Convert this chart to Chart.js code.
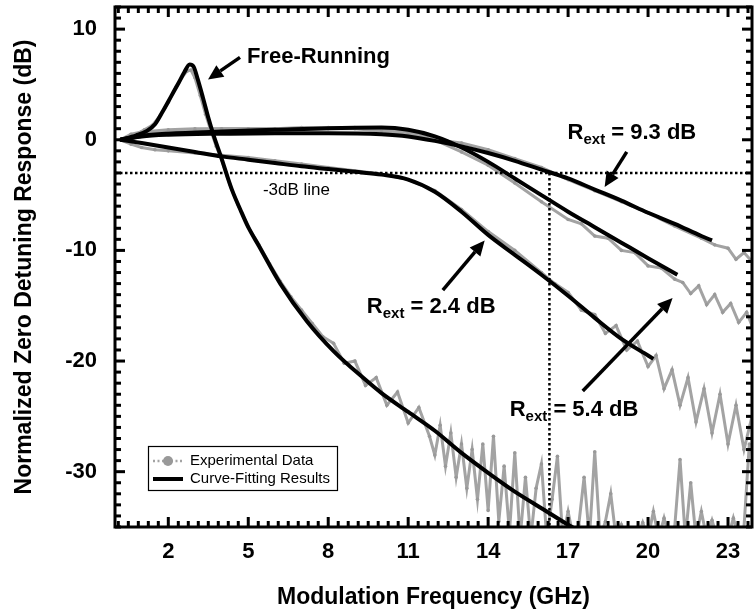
<!DOCTYPE html>
<html><head><meta charset="utf-8">
<script src="https://cdn.jsdelivr.net/npm/chart.js@4/dist/chart.umd.min.js"></script>
<style>html,body{margin:0;padding:0;background:#fff}</style>
</head><body>
<canvas id="c" width="756" height="612"></canvas>
<script>
// ---------- data ----------
const xTicks = [2, 5, 8, 11, 14, 17, 20, 23];
const yTicks = [-30, -20, -10, 0, 10];

// Curve-fitting results
const frFitX = [0.2,0.8,1.2,1.5,1.8,2.1,2.4,2.6,2.8,2.95,3.1,3.3,3.5,3.7,4.0,4.2,4.4,4.7,5.0,5.4,6.2,7.2,8.2,9.4,10,11,12,13,14,15,16,17,17.6];
const frFitY = [0,0.4,0.8,1.4,2.6,3.9,5.2,6.1,6.8,6.6,5.5,3.8,2.0,0.4,-1.7,-3.2,-4.6,-6.3,-7.9,-9.6,-13.0,-16.4,-19.1,-21.7,-22.9,-24.6,-26.3,-28.3,-30.1,-31.8,-33.3,-34.8,-35.6];
const r24FitX = [0.2,1,2,3,4,5,6,7,8,9,10,11,12,13,14,15,16,17,18,19,20,20.2];
const r24FitY = [0,-0.3,-0.7,-1.1,-1.5,-1.8,-2.1,-2.4,-2.65,-2.9,-3.15,-3.6,-4.7,-6.5,-8.6,-10.4,-12.2,-14.1,-16.1,-18.0,-19.5,-19.8];
const r54FitX = [0.2,1,2,4,6,8,10,11,12,13,14,15,16,17,18,19,20,21.1];
const r54FitY = [0,0.35,0.55,0.75,0.9,1.05,1.1,0.9,0.3,-0.7,-2.0,-3.5,-5.0,-6.5,-7.9,-9.3,-10.7,-12.2];
const r93FitX = [0.2,1,2,4,6,8,10,11,12,13,14,15,16,17,18,19,20,21,22,22.4];
const r93FitY = [0,0.3,0.45,0.55,0.6,0.6,0.5,0.3,-0.1,-0.6,-1.2,-1.9,-2.7,-3.5,-4.5,-5.5,-6.6,-7.6,-8.7,-9.1];

// Experimental data
const frExpX = [0.2,0.5,0.8,1.1,1.4,1.7,2.0,2.3,2.5,2.7,2.85,3.0,3.2,3.4,3.6,3.8,4.0,4.3,4.6,5.0,5.4,5.8,6.2,6.6,7.0,7.4,7.8,8.2,8.6,9.0,9.4,9.8,10.2,10.6,11.0,11.4,11.8,
  12.0,12.2,12.4,12.6,12.8,13.0,13.2,13.4,13.6,13.8,14.0,14.2,14.4,14.6,14.8,15.0,15.2,15.4,15.6,15.8,
  16.0,16.2,16.4,16.6,16.8,17.0,17.2,17.4,17.6,17.8,18.0,18.2,18.4,18.6,18.8,19.0,19.2,19.4,19.6,19.8,
  20.0,20.2,20.4,20.6,20.8,21.0,21.2,21.4,21.6,21.8,22.0,22.2,22.4,22.6,22.8,23.0,23.2,23.4,23.6,23.8];
const frExpY = [0,0.2,0.5,0.9,1.3,2.2,3.4,4.8,5.6,6.2,6.3,5.6,4.0,2.3,0.8,-0.6,-1.8,-4.0,-5.8,-7.9,-9.5,-11.2,-12.8,-14.2,-15.4,-16.6,-17.8,-18.4,-20.2,-20.0,-22.2,-21.5,-24.0,-22.8,-25.6,-24.2,-26.8,
  -28.5,-25.8,-29.5,-26.5,-30.5,-27.5,-31.5,-28.0,-32.5,-27.5,-33.5,-26.8,-34.5,-29.5,-35.5,-28.3,-36,-30.5,-36,-31.5,
  -29.3,-36,-32.5,-28.6,-36,-33.6,-36,-34.8,-30.5,-36,-28.2,-36,-34.5,-32.0,-36,-34.8,-36,-35.2,-36,-34.6,
  -36,-33.6,-36,-34.2,-36,-35.0,-28.9,-36,-31.0,-36,-33.6,-36,-34.4,-36,-35.2,-36,-34.2,-36,-35.0,-27.5];
const r24ExpX = [0.2,0.6,1.0,1.5,2,3,4,5,6,7,8,9,10,11,12,13,14,15,16,16.5,17,17.5,18,18.4,18.8,19.2,19.6,20.0,20.3,20.6,20.9,21.2,21.5,21.8,22.1,22.4,22.7,23.0,23.3,23.6,23.9];
const r24ExpY = [0,-0.4,-0.7,-0.9,-1.0,-1.2,-1.4,-1.6,-1.9,-2.2,-2.5,-2.8,-3.1,-3.6,-4.6,-6.3,-8.3,-10.0,-12.0,-13.0,-13.8,-15.4,-15.8,-17.5,-16.8,-19.0,-18.2,-20.5,-19.5,-22.5,-20.8,-24.0,-21.5,-25.5,-22.5,-26.5,-23.0,-27.5,-24.0,-28.0,-25.0];
const r54ExpX = [0.2,0.6,1,2,3,4,5,6,7,8,9,10,11,12,13,14,15,16,17,17.5,18,18.5,19,19.5,20,20.5,21,21.3,21.6,21.9,22.2,22.5,22.8,23.1,23.4,23.7,23.9];
const r54ExpY = [0,0.4,0.6,0.8,0.9,1.0,1.0,1.0,1.1,1.1,1.1,1.0,0.7,0.0,-1.1,-2.3,-3.9,-5.6,-7.2,-7.6,-8.7,-8.9,-10.0,-10.2,-11.4,-11.6,-12.6,-12.9,-13.9,-13.2,-14.9,-14.0,-15.6,-14.8,-16.5,-15.6,-16.8];
const r93ExpX = [0.2,0.6,1,2,3,4,5,6,7,8,9,10,11,12,13,14,15,16,17,18,19,20,21,22,22.5,23,23.3,23.6,23.9];
const r93ExpY = [0,0.5,0.7,0.9,1.0,1.0,1.0,1.0,1.0,1.0,1.0,0.8,0.5,0.0,-0.3,-0.9,-1.7,-2.5,-3.6,-4.6,-5.6,-6.6,-7.8,-8.9,-9.5,-9.8,-10.8,-10.2,-11.0];

// -3 dB reference lines
const refHX = [0, 23.9], refHY = [-3, -3];
const refVX = [16.3, 16.3], refVY = [-3, -35];

// Annotations (data units)
const labelTexts = [
  {text: 'Free-Running', x: 4.95, y: 7.5, bold: true, size: 22},
  {text: '-3dB line', x: 5.55, y: -4.55, bold: false, size: 17}
];
const rextLabels = [
  {val: '9.3', x: 16.98, y: 0.64},
  {val: '2.4', x: 9.45, y: -15.1},
  {val: '5.4', x: 14.81, y: -24.4}
];
const arrows = [
  {from: [4.69, 7.45], to: [3.49, 5.45]},
  {from: [19.2, -1.1], to: [18.37, -4.27]},
  {from: [12.3, -13.6], to: [13.87, -9.1]},
  {from: [17.55, -22.7], to: [20.92, -14.3]}
];
const legendItems = ['Experimental Data', 'Curve-Fitting Results'];

// ---------- chart ----------
const FONT = '"Liberation Sans", Arial, Helvetica, sans-serif';
const GRAY = '#a3a3a3';
const zip = (xs, ys) => xs.slice(0, Math.min(xs.length, ys.length)).map((v, i) => ({x: v, y: ys[i]}));

function expDs(xs, ys) {
  return {data: zip(xs, ys), borderColor: GRAY, borderWidth: 3, pointRadius: 1.8,
    pointBackgroundColor: '#999', pointBorderWidth: 0, tension: 0, clip: 0, order: 3};
}
function fitDs(xs, ys) {
  return {data: zip(xs, ys), borderColor: '#000', borderWidth: 4, pointRadius: 0,
    cubicInterpolationMode: 'monotone', clip: 0, order: 1};
}
function refDs(xs, ys) {
  return {data: zip(xs, ys), borderColor: '#000', borderWidth: 2.5, borderDash: [2.5, 2.5],
    pointRadius: 0, tension: 0, clip: 0, order: 2};
}

const decor = {
  id: 'decor',
  afterDatasetsDraw(chart) {
    const {ctx, chartArea: ca} = chart;
    const xs = chart.scales.x, ys = chart.scales.y;
    const px = v => xs.getPixelForValue(v), py = v => ys.getPixelForValue(v);
    ctx.save();
    ctx.fillStyle = '#000';
    ctx.textBaseline = 'middle';
    ctx.textAlign = 'left';
    labelTexts.forEach(t => {
      ctx.font = (t.bold ? 'bold ' : '') + t.size + 'px ' + FONT;
      ctx.fillText(t.text, px(t.x), py(t.y));
    });
    rextLabels.forEach(r => {
      let X = px(r.x); const Y = py(r.y);
      ctx.font = 'bold 22px ' + FONT; ctx.fillText('R', X, Y); X += ctx.measureText('R').width;
      ctx.font = 'bold 15px ' + FONT; ctx.fillText('ext', X, Y + 7); X += ctx.measureText('ext').width;
      ctx.font = 'bold 22px ' + FONT; ctx.fillText(' = ' + r.val + ' dB', X, Y);
    });
    // arrows
    arrows.forEach(a => {
      const x1 = px(a.from[0]), y1 = py(a.from[1]), x2 = px(a.to[0]), y2 = py(a.to[1]);
      const ang = Math.atan2(y2 - y1, x2 - x1), hl = 15, hw = 7;
      const bx = x2 - hl * Math.cos(ang), by = y2 - hl * Math.sin(ang);
      ctx.strokeStyle = '#000'; ctx.lineWidth = 3.5; ctx.lineCap = 'butt';
      ctx.beginPath(); ctx.moveTo(x1, y1); ctx.lineTo(bx, by); ctx.stroke();
      ctx.beginPath(); ctx.moveTo(x2, y2);
      ctx.lineTo(bx + hw * Math.sin(ang), by - hw * Math.cos(ang));
      ctx.lineTo(bx - hw * Math.sin(ang), by + hw * Math.cos(ang));
      ctx.closePath(); ctx.fill();
    });
    // legend
    const lx = ca.left + 33, ly = ca.bottom - 81, lw = 189, lh = 44;
    ctx.fillStyle = '#fff'; ctx.fillRect(lx, ly, lw, lh);
    ctx.strokeStyle = '#000'; ctx.lineWidth = 1.2; ctx.strokeRect(lx + 0.5, ly + 0.5, lw, lh);
    ctx.font = '15px ' + FONT; ctx.fillStyle = '#000';
    const r1 = ly + 15, r2 = ly + 33;
    ctx.strokeStyle = GRAY; ctx.lineWidth = 2.5; ctx.setLineDash([2, 2.5]);
    ctx.beginPath(); ctx.moveTo(lx + 5, r1); ctx.lineTo(lx + 35, r1); ctx.stroke();
    ctx.setLineDash([]);
    ctx.fillStyle = '#999'; ctx.beginPath(); ctx.arc(lx + 20, r1, 5, 0, Math.PI * 2); ctx.fill();
    ctx.strokeStyle = '#000'; ctx.lineWidth = 4;
    ctx.beginPath(); ctx.moveTo(lx + 5, r2); ctx.lineTo(lx + 35, r2); ctx.stroke();
    ctx.fillStyle = '#000';
    ctx.fillText(legendItems[0], lx + 42, r1);
    ctx.fillText(legendItems[1], lx + 42, r2);
    // frame + inward ticks
    ctx.strokeStyle = '#000';
    const tick = (x1, y1, x2, y2, w) => { ctx.lineWidth = w; ctx.beginPath(); ctx.moveTo(x1, y1); ctx.lineTo(x2, y2); ctx.stroke(); };
    for (let v = 2 - 0.375 * 5; v <= xs.max + 1e-6; v += 0.375) {
      if (v < xs.min) continue;
      const isMaj = xTicks.some(t => Math.abs(t - v) < 1e-6);
      const L = isMaj ? 10 : 6, X = px(v);
      tick(X, ca.bottom, X, ca.bottom - L, 3);
      tick(X, ca.top, X, ca.top + L, 3);
    }
    for (let v = -35; v <= ys.max + 1e-6; v += 1) {
      const isMaj = yTicks.includes(v);
      const L = isMaj ? 10 : 6, Y = py(v);
      tick(ca.left, Y, ca.left + L, Y, 3);
      tick(ca.right, Y, ca.right - L, Y, 3);
    }
    ctx.lineWidth = 3;
    ctx.strokeRect(ca.left, ca.top, ca.right - ca.left, ca.bottom - ca.top);
    ctx.restore();
  }
};

new Chart(document.getElementById('c'), {
  type: 'line',
  data: {
    datasets: [
      fitDs(frFitX, frFitY), fitDs(r24FitX, r24FitY), fitDs(r54FitX, r54FitY), fitDs(r93FitX, r93FitY),
      refDs(refHX, refHY), refDs(refVX, refVY),
      expDs(frExpX, frExpY), expDs(r24ExpX, r24ExpY), expDs(r54ExpX, r54ExpY), expDs(r93ExpX, r93ExpY)
    ]
  },
  options: {
    responsive: false, animation: false, devicePixelRatio: 1,
    layout: {padding: {top: 7, right: 3, left: 0, bottom: 0}},
    plugins: {legend: {display: false}, tooltip: {enabled: false}},
    scales: {
      x: {
        type: 'linear', min: 0, max: 23.9,
        grid: {display: false}, border: {display: false},
        afterBuildTicks: s => { s.ticks = xTicks.map(v => ({value: v})); },
        afterFit: s => { s.height = 85; s.paddingLeft = 0; s.paddingRight = 0; },
        ticks: {color: '#000', font: {family: FONT, size: 22, weight: 'bold'}, padding: 4, maxRotation: 0, autoSkip: false},
        title: {display: true, text: 'Modulation Frequency (GHz)', color: '#000',
          font: {family: FONT, size: 23, weight: 'bold'}, padding: {top: 0, bottom: 1}}
      },
      y: {
        type: 'linear', min: -35, max: 12,
        grid: {display: false}, border: {display: false},
        afterBuildTicks: s => { s.ticks = yTicks.map(v => ({value: v})); },
        afterFit: s => { s.width = 115; s.paddingTop = 0; s.paddingBottom = 0; },
        ticks: {color: '#000', font: {family: FONT, size: 22, weight: 'bold'}, padding: 10},
        title: {display: true, text: 'Normalized Zero Detuning Response (dB)', color: '#000',
          font: {family: FONT, size: 23, weight: 'bold'}, padding: {top: 11, bottom: 0}}
      }
    }
  },
  plugins: [decor]
});
</script>
</body></html>
